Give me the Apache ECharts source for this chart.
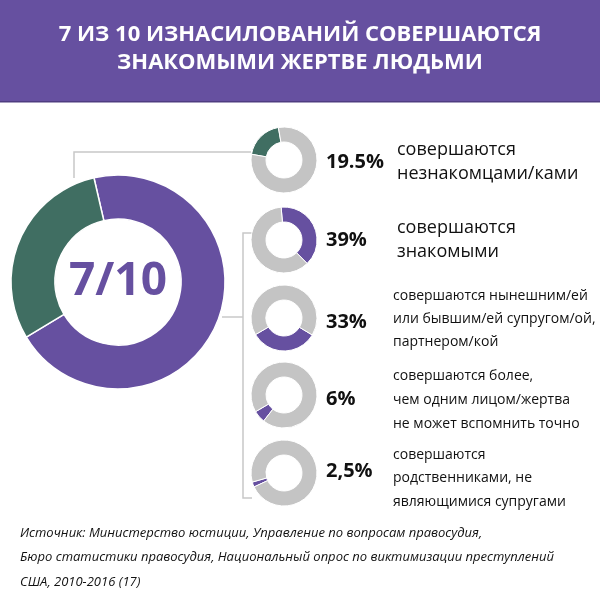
<!DOCTYPE html>
<html><head><meta charset="utf-8">
<script src="https://cdn.jsdelivr.net/npm/echarts@6/dist/echarts.min.js"></script>
<style>html,body{margin:0;padding:0;background:#fff}#c{width:600px;height:600px}</style>
</head><body><div id="c"></div>
<script>
const titleLines = ['7 ИЗ 10 ИЗНАСИЛОВАНИЙ СОВЕРШАЮТСЯ', 'ЗНАКОМЫМИ ЖЕРТВЕ ЛЮДЬМИ'];
const mainValues = [70, 30];
const mainLabel = '7/10';
const smallValues = [19.5, 39, 33, 6, 2.5];
const smallLabels = ['19.5%', '39%', '33%', '6%', '2,5%'];
const smallDescs = [
  ['совершаются', 'незнакомцами/ками'],
  ['совершаются', 'знакомыми'],
  ['совершаются нынешним/ей', 'или бывшим/ей супругом/ой,', 'партнером/кой'],
  ['совершаются более,', 'чем одним лицом/жертва', 'не может вспомнить точно'],
  ['совершаются', 'родственниками, не', 'являющимися супругами']
];
const sourceLines = [
  'Источник: Министерство юстиции, Управление по вопросам правосудия,',
  'Бюро статистики правосудия, Национальный опрос по виктимизации преступлений',
  'США, 2010-2016 (17)'
];
const PURPLE = '#6650a0', GREEN = '#406e62', GRAY = '#c4c4c4';
const smallColors = [GREEN, PURPLE, PURPLE, PURPLE, PURPLE];
const smallStart = [170, 95, -31, -128, -155];
const smallY = [160, 240, 318, 395, 473];
const pctY = [162, 240, 322, 399, 471];
const descY = [[150, 174], [228, 252], [296, 319, 342], [376, 400, 424], [455, 478, 502]];
const descSize = [18, 18, 14, 14, 14];
const descX = [397, 397, 393, 393, 393];

const chart = echarts.init(document.getElementById('c'));
const series = [{
  type: 'pie', radius: [63, 107], center: [118, 282], startAngle: 103, clockwise: true,
  silent: true, label: { show: false }, labelLine: { show: false },
  itemStyle: { borderColor: '#fff', borderWidth: 1.5 },
  data: [{ value: mainValues[0], itemStyle: { color: PURPLE } }, { value: mainValues[1], itemStyle: { color: GREEN } }]
}];
smallValues.forEach((v, i) => {
  series.push({
    type: 'pie', radius: [18, 33], center: [284, smallY[i]], startAngle: smallStart[i], clockwise: true,
    silent: true, label: { show: false }, labelLine: { show: false },
    itemStyle: { borderColor: '#fff', borderWidth: 1 },
    data: [{ value: v, itemStyle: { color: smallColors[i] } }, { value: 100 - v, itemStyle: { color: GRAY } }]
  });
});
const g = [
  { type: 'rect', shape: { x: 0, y: 0, width: 600, height: 102 }, style: { fill: PURPLE } },
  { type: 'rect', shape: { x: 0, y: 101, width: 600, height: 1.5 }, style: { fill: '#4e3c80' } },
  { type: 'polyline', shape: { points: [[74, 178], [74, 152], [251, 152]] }, style: { stroke: '#c8c8c8', lineWidth: 1.5, fill: null } },
  { type: 'polyline', shape: { points: [[222, 317], [243, 317]] }, style: { stroke: '#c8c8c8', lineWidth: 1.5 } },
  { type: 'polyline', shape: { points: [[257, 233], [243, 233], [243, 498], [252, 498]] }, style: { stroke: '#c8c8c8', lineWidth: 1.5, fill: null } },
  { type: 'text', x: 118, y: 282, style: { text: mainLabel, fill: PURPLE, font: 'bold 46px "Open Sans"', align: 'center', verticalAlign: 'middle' } }
];
titleLines.forEach((t, i) => g.push({ type: 'text', x: 300, y: 35 + i * 28, style: { text: t, fill: '#fff', font: 'bold 22px "Open Sans"', align: 'center', verticalAlign: 'middle' } }));
smallLabels.forEach((t, i) => {
  g.push({ type: 'text', x: 326, y: pctY[i], style: { text: t, fill: '#111', font: 'bold 20px "Open Sans"', verticalAlign: 'middle' } });
  smallDescs[i].forEach((d, j) => g.push({ type: 'text', x: descX[i], y: descY[i][j], style: { text: d, fill: '#111', font: descSize[i] + 'px "Open Sans"', verticalAlign: 'middle' } }));
});
sourceLines.forEach((t, i) => g.push({ type: 'text', x: 20, y: 533 + i * 24.5, style: { text: t, fill: '#111', font: 'italic 13px "Open Sans"', verticalAlign: 'middle' } }));
chart.setOption({ animation: false, series, graphic: g });
</script></body></html>
